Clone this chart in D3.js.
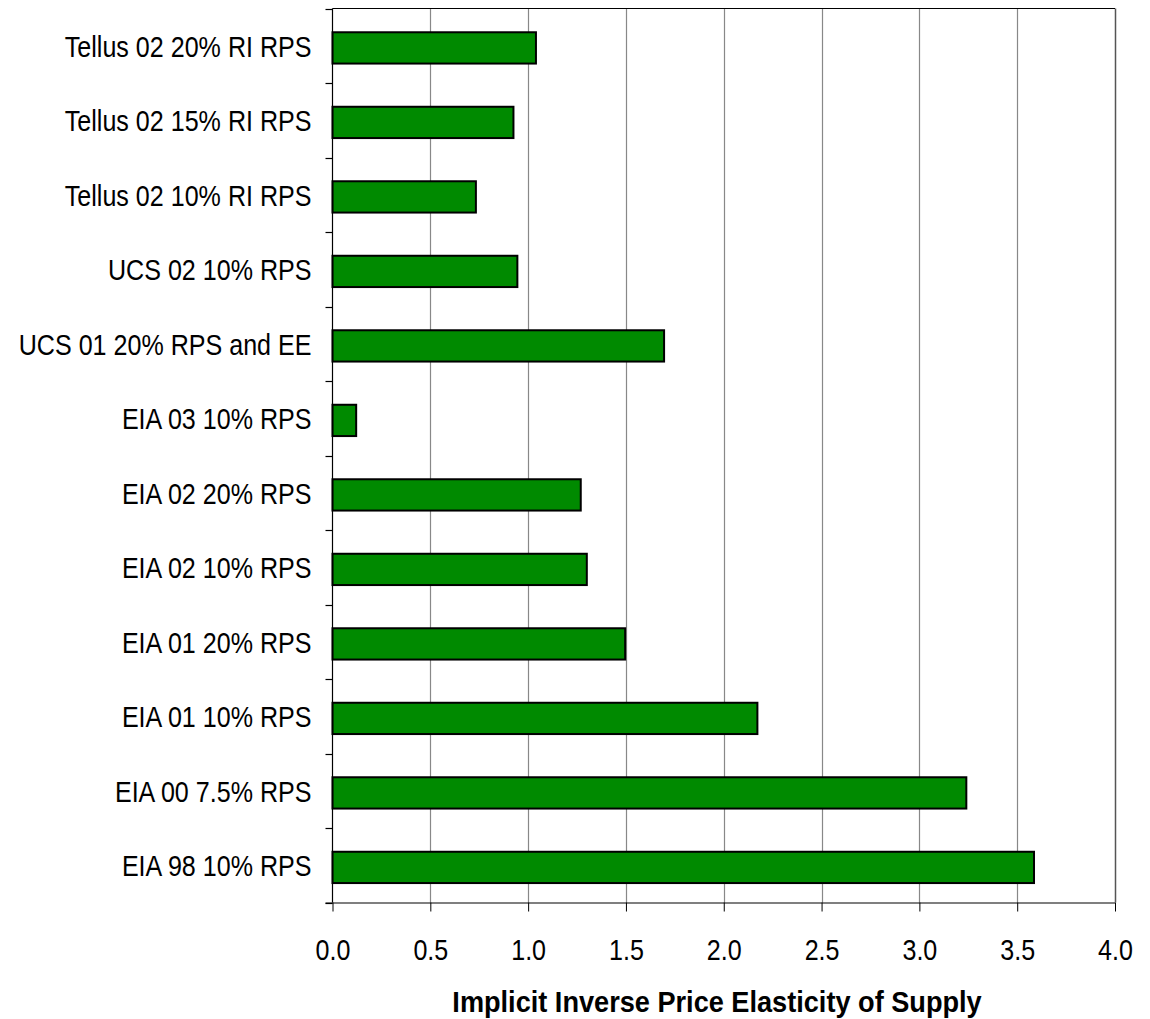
<!DOCTYPE html>
<html>
<head>
<meta charset="utf-8">
<script src="https://cdn.jsdelivr.net/npm/d3@7"></script>
<style>
  html, body { margin: 0; padding: 0; background: #fff; }
  svg { display: block; }
  text { font-family: "Liberation Sans", Arial, sans-serif; fill: #000; }
</style>
</head>
<body>
<svg id="chart" width="1150" height="1019"></svg>
<script>
const categories = [
  "Tellus 02 20% RI RPS",
  "Tellus 02 15% RI RPS",
  "Tellus 02 10% RI RPS",
  "UCS 02 10% RPS",
  "UCS 01 20% RPS and EE",
  "EIA 03 10% RPS",
  "EIA 02 20% RPS",
  "EIA 02 10% RPS",
  "EIA 01 20% RPS",
  "EIA 01 10% RPS",
  "EIA 00 7.5% RPS",
  "EIA 98 10% RPS"
];
const values = [1.04, 0.925, 0.733, 0.945, 1.695, 0.121, 1.269, 1.30, 1.496, 2.172, 3.24, 3.586];
const xTicks = [0, 0.5, 1.0, 1.5, 2.0, 2.5, 3.0, 3.5, 4.0];
const xTitle = "Implicit Inverse Price Elasticity of Supply";

(function () {
const svg = d3.select("#chart");
const pLeft = 332.5, pRight = 1115, pTop = 8.5, pBottom = 902.5;
const narrow = 0.865;

const x = d3.scaleLinear().domain([0, 4]).range([pLeft, pRight]);
const y = d3.scaleBand().domain(categories).range([pTop, pBottom])
  .paddingInner(0.58).paddingOuter(0.29).align(0.55);
const yEdge = d3.scaleLinear().domain([0, categories.length]).range([pTop, pBottom]);

// gridlines
svg.append("g").selectAll("line").data(xTicks.slice(1)).join("line")
  .attr("x1", d => Math.round(x(d)) + 0.5).attr("x2", d => Math.round(x(d)) + 0.5)
  .attr("y1", pTop).attr("y2", pBottom)
  .attr("stroke", d => d === 4 ? "#555" : "#888").attr("stroke-width", d => d === 4 ? 1.5 : 1.2);

// top border
svg.append("line").attr("x1", pLeft).attr("x2", pRight).attr("y1", pTop).attr("y2", pTop)
  .attr("stroke", "#000").attr("stroke-width", 1.2);

// bars
svg.append("g").selectAll("rect").data(categories).join("rect")
  .attr("x", x(0))
  .attr("y", d => y(d))
  .attr("width", (d, i) => x(values[i]) - x(0))
  .attr("height", y.bandwidth())
  .attr("fill", "#008a00")
  .attr("stroke", "#000")
  .attr("stroke-width", 2);

// x axis
const xAxis = d3.axisBottom(x).tickValues(xTicks).tickFormat(d3.format(".1f"))
  .tickSize(9).tickPadding(28);
const gx = svg.append("g").attr("transform", `translate(0,${pBottom})`).call(xAxis);
gx.select(".domain").attr("d", `M${pLeft - 7},0.5H${pRight}`).attr("stroke", "#000").attr("stroke-width", 1.2);
gx.selectAll(".tick line").attr("stroke", "#000");
gx.selectAll(".tick text").attr("font-size", 29).attr("font-family", null)
  .attr("transform", `scale(${narrow},1)`);

// y axis with ticks at category boundaries
svg.append("line").attr("x1", pLeft).attr("x2", pLeft).attr("y1", pTop).attr("y2", pBottom)
  .attr("stroke", "#000").attr("stroke-width", 1.2);
svg.append("g").selectAll("line").data(d3.range(categories.length + 1)).join("line")
  .attr("x1", pLeft - 7).attr("x2", pLeft)
  .attr("y1", d => Math.round(yEdge(d)) + 0.5).attr("y2", d => Math.round(yEdge(d)) + 0.5)
  .attr("stroke", "#000").attr("stroke-width", 1.2);

svg.append("g").selectAll("text").data(categories).join("text")
  .attr("transform", d => `translate(${pLeft - 21},${y(d) + y.bandwidth() / 2}) scale(${narrow},1)`)
  .attr("dy", "0.3em")
  .attr("text-anchor", "end")
  .attr("font-size", 29)
  .text(d => d);

svg.append("text")
  .attr("transform", `translate(717,1012) scale(0.936,1)`)
  .attr("text-anchor", "middle")
  .attr("font-size", 29)
  .attr("font-weight", "bold")
  .text(xTitle);
})();
</script>
</body>
</html>
